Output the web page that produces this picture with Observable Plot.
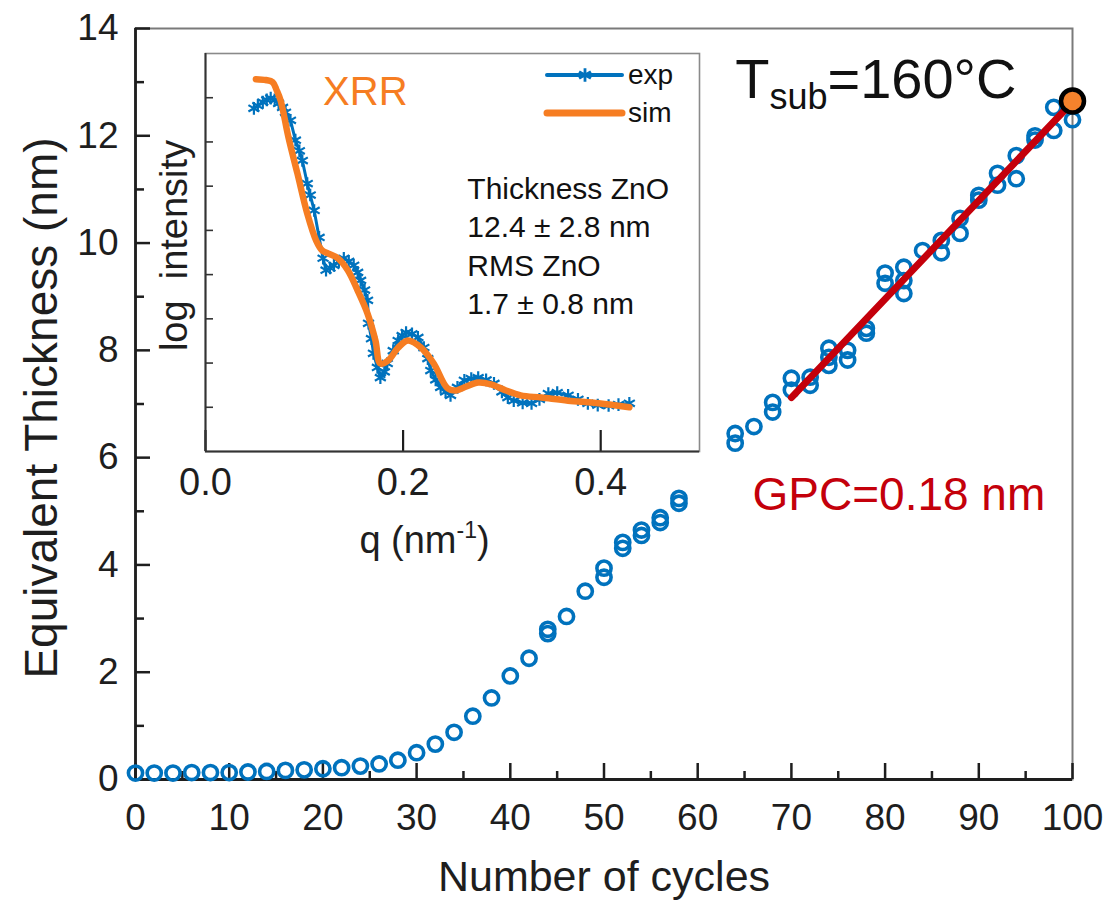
<!DOCTYPE html>
<html>
<head>
<meta charset="utf-8">
<script src="https://cdn.jsdelivr.net/npm/d3@7"></script>
<script src="https://cdn.jsdelivr.net/npm/@observablehq/plot@0.6"></script>
<style>
  html, body { margin: 0; padding: 0; background: white; }
  #wrap { position: relative; width: 1109px; height: 903px; overflow: hidden; }
  #inset { position: absolute; left: 150px; top: 40px; }
</style>
</head>
<body>
<div id="wrap"><div id="main"></div><div id="inset"></div></div>
<script>
// ---------------- data ----------------
const cycles = [0,2,4,6,8,10,12,14,16,18,20,22,24,26,28,30,32,34,36,38,40,42,44,44,46,48,50,50,52,52,54,54,56,56,58,58,64,64,66,68,68,70,70,72,72,74,74,74,76,76,78,78,80,80,82,82,82,84,86,86,88,88,90,90,92,92,94,94,96,96,98,98,100];
const thickness = [0.12,0.12,0.12,0.13,0.13,0.13,0.14,0.15,0.17,0.18,0.2,0.22,0.25,0.29,0.36,0.5,0.66,0.88,1.18,1.52,1.93,2.26,2.72,2.8,3.04,3.51,3.94,3.77,4.31,4.42,4.55,4.65,4.88,4.79,5.24,5.15,6.27,6.45,6.58,6.85,7.03,7.26,7.48,7.35,7.5,7.72,7.87,8.04,7.82,8.0,8.32,8.41,9.25,9.44,9.06,9.3,9.55,9.86,9.82,10.05,10.18,10.46,10.8,10.89,11.08,11.3,11.2,11.63,11.92,12.0,12.1,12.53,12.3];
const fitCycles = [70, 100];
const fitThickness = [7.12, 12.63];
const xrrCycle = [100];
const xrrThickness = [12.65];

const xMajor = [0,10,20,30,40,50,60,70,80,90,100];
const xMinor = [5,15,25,35,45,55,65,75,85,95];
const yMajor = [0,2,4,6,8,10,12,14];
const yMinor = [1,3,5,7,9,11,13];

// inset (XRR)
const expQ = [0.049,0.053,0.058,0.062,0.066,0.070,0.074,0.078,0.081,0.086,0.091,0.095,0.098,0.103,0.106,0.110,0.115,0.119,0.122,0.126,0.130,0.135,0.140,0.145,0.150,0.154,0.157,0.161,0.164,0.165,0.168,0.170,0.174,0.177,0.181,0.184,0.190,0.195,0.199,0.203,0.209,0.215,0.221,0.225,0.228,0.233,0.238,0.243,0.248,0.255,0.262,0.269,0.276,0.284,0.292,0.300,0.306,0.312,0.321,0.330,0.338,0.347,0.356,0.367,0.377,0.387,0.397,0.408,0.418,0.429];
const expI = [7.76,7.82,7.90,7.95,7.99,7.95,7.87,7.78,7.67,7.49,7.04,6.80,6.58,6.06,5.80,5.45,4.84,4.37,4.10,4.15,4.21,4.30,4.37,4.30,4.21,4.05,3.87,3.65,3.42,2.90,2.55,2.22,1.90,1.67,1.80,1.99,2.28,2.51,2.62,2.69,2.66,2.58,2.35,2.10,1.83,1.62,1.45,1.35,1.27,1.45,1.61,1.65,1.67,1.62,1.54,1.35,1.22,1.15,1.10,1.09,1.18,1.31,1.33,1.27,1.18,1.09,1.05,1.04,1.06,1.09];
const simQ = [0.051,0.061,0.068,0.072,0.076,0.084,0.093,0.103,0.112,0.118,0.124,0.134,0.144,0.154,0.164,0.172,0.177,0.185,0.195,0.205,0.218,0.231,0.245,0.254,0.264,0.276,0.289,0.304,0.319,0.340,0.367,0.398,0.429];
const simI = [8.42,8.40,8.35,8.17,7.94,7.10,6.29,5.38,4.77,4.55,4.48,4.37,4.10,3.64,3.12,2.51,1.99,2.06,2.35,2.51,2.35,1.99,1.43,1.38,1.47,1.56,1.52,1.38,1.27,1.22,1.15,1.09,1.00];
const qTicks = [0, 0.2, 0.4];
const iTicks = [1,2,3,4,5,6,7,8];
const insetNotes = ["Thickness ZnO", "12.4 \u00b1 2.8 nm", "RMS ZnO", "1.7 \u00b1 0.8 nm"];
const legendLabels = ["exp", "sim"];

// ---------------- styles ----------------
const FONT = "'Liberation Sans', Arial, Helvetica, sans-serif";
const BLUE = "#0072bd";
const ORANGE = "#f67d22";
const RED = "#c4000b";
const AXIS = "#1e1e1e";

const rows = cycles.map((c, i) => ({c, t: thickness[i]}));
const fitRows = fitCycles.map((c, i) => ({c, t: fitThickness[i]}));
const endRows = xrrCycle.map((c, i) => ({c, t: xrrThickness[i]}));
const expRows = expQ.map((q, i) => ({q, v: expI[i]}));
const simRows = simQ.map((q, i) => ({q, v: simI[i]}));

// ---------------- main chart ----------------
const W = 1109, H = 903;
const mL = 135, mR = 37, mT = 28, mB = 124;
const fh = H - mT - mB, fw = W - mL - mR;

const main = Plot.plot({
  width: W, height: H,
  marginLeft: mL, marginRight: mR, marginTop: mT, marginBottom: mB,
  style: {fontFamily: FONT, background: "white", color: AXIS, overflow: "visible"},
  x: {domain: [0, 100]},
  y: {domain: [0, 14]},
  marks: [
    Plot.frame({stroke: "#7a7a7a", strokeWidth: 2}),
    Plot.tickX(xMajor, {x: d => d, insetTop: fh - 16, stroke: AXIS, strokeWidth: 2.5}),
    Plot.tickX(xMinor, {x: d => d, insetTop: fh - 8, stroke: AXIS, strokeWidth: 2.5}),
    Plot.tickY(yMajor, {y: d => d, insetRight: fw - 15, stroke: AXIS, strokeWidth: 2.5}),
    Plot.tickY(yMinor, {y: d => d, insetRight: fw - 9, stroke: AXIS, strokeWidth: 2.5}),
    Plot.ruleX([0], {stroke: AXIS, strokeWidth: 2.8}),
    Plot.ruleY([0], {stroke: AXIS, strokeWidth: 2.8}),
    Plot.axisX(xMajor, {tickSize: 0, tickPadding: 24, fontSize: 37, label: null, fill: AXIS, tickFormat: d => String(d)}),
    Plot.axisY(yMajor, {tickSize: 0, tickPadding: 17, fontSize: 37, label: null, fill: AXIS, tickFormat: d => String(d)}),
    Plot.text(["Equivalent Thickness (nm)"], {frameAnchor: "left", textAnchor: "middle", rotate: -90, dx: -93, dy: 4, fontSize: 46, fill: AXIS}),
    Plot.text(["Number of cycles"], {frameAnchor: "bottom", dy: 111, fontSize: 43, fill: AXIS}),
    Plot.dot(rows, {x: "c", y: "t", r: 7.1, stroke: BLUE, strokeWidth: 3.6, fill: "none"}),
    Plot.line(fitRows, {x: "c", y: "t", stroke: RED, strokeWidth: 7}),
    Plot.dot(endRows, {x: "c", y: "t", r: 11.5, fill: "#f5822c", stroke: "#000", strokeWidth: 4.5}),
    Plot.text(["Tsub=160\u00b0C"], {x: 64.0, y: 13.04, textAnchor: "start", fontSize: 56, fill: "#111"}),
    Plot.text(["GPC=0.18 nm"], {x: 65.85, y: 5.30, textAnchor: "start", fontSize: 46, fill: RED})
  ]
});
document.getElementById("main").appendChild(main);

// ---------------- inset chart ----------------
const iW = 560, iH = 520;
const iL = 55, iR = 11, iT = 13, iB = 109;
const ifh = iH - iT - iB, ifw = iW - iL - iR;

const inset = Plot.plot({
  width: iW, height: iH,
  marginLeft: iL, marginRight: iR, marginTop: iT, marginBottom: iB,
  style: {fontFamily: FONT, background: "transparent", color: AXIS, overflow: "visible"},
  x: {domain: [0, 0.5], axis: null},
  y: {domain: [0, 9], axis: null},
  marks: [
    Plot.rect([0], {x1: 0, x2: 0.5, y1: 0, y2: 9, fill: "white"}),
    Plot.frame({stroke: "#8a8a8a", strokeWidth: 1.6}),
    Plot.tickX(qTicks, {x: d => d, insetTop: ifh - 21, stroke: AXIS, strokeWidth: 2.2}),
    Plot.tickY(iTicks, {y: d => d, insetRight: ifw - 8, stroke: "#333", strokeWidth: 1.6}),
    Plot.ruleX([0], {stroke: "#333", strokeWidth: 2}),
    Plot.ruleY([0], {stroke: "#333", strokeWidth: 2}),
    Plot.axisX(qTicks, {tickSize: 0, tickPadding: 17, fontSize: 38, label: null, fill: AXIS, tickFormat: d => d.toFixed(1)}),
    Plot.text(["log  intensity"], {frameAnchor: "left", textAnchor: "middle", rotate: -90, dx: -31, dy: -7, fontSize: 38, fill: AXIS}),
    Plot.text(["q (nm-1)"], {frameAnchor: "bottom", dx: -28, dy: 101, fontSize: 38, fill: AXIS}),
    Plot.line(expRows, {x: "q", y: "v", stroke: BLUE, strokeWidth: 3}),
    Plot.dot(expRows, {x: "q", y: "v", symbol: "asterisk", r: 6, stroke: BLUE, strokeWidth: 2.2}),
    Plot.line(simRows, {x: "q", y: "v", curve: "catmull-rom", stroke: ORANGE, strokeWidth: 6.5}),
    Plot.text(["XRR"], {x: 0.119, y: 8.12, textAnchor: "start", fontSize: 40, fill: ORANGE}),
    Plot.text([insetNotes.join("\n")], {x: 0.265, y: 6.33, textAnchor: "start", lineAnchor: "top", lineHeight: 1.283, fontSize: 30, fill: "#111"})
  ]
});
document.getElementById("inset").appendChild(inset);

// ---------------- rich text (subscript / superscript) ----------------
function rich(svg, content, parts) {
  d3.select(svg).selectAll("text").each(function() {
    if (this.textContent === content) {
      const t = d3.select(this);
      t.text(null);
      for (const p of parts) {
        const s = t.append("tspan").text(p.text);
        if (p.size) s.attr("font-size", p.size);
        if (p.dy) s.attr("dy", p.dy);
      }
    }
  });
}
rich(main, "Tsub=160\u00b0C", [{text: "T"}, {text: "sub", size: 36, dy: 11}, {text: "=160\u00b0C", dy: -11}]);
rich(inset, "q (nm-1)", [{text: "q (nm"}, {text: "-1", size: 23, dy: -15}, {text: ")", dy: 15}]);

// ---------------- inset legend ----------------
const lg = d3.select(inset).append("g").attr("font-family", FONT).attr("font-size", 28).attr("fill", "#111").attr("text-anchor", "start");
legendLabels.forEach((lab, i) => {
  const yy = 35 + i * 38;
  const g = lg.append("g").attr("transform", `translate(397,${yy})`);
  if (lab === "exp") {
    g.append("line").attr("x1", 0).attr("x2", 75).attr("stroke", BLUE).attr("stroke-width", 4).attr("stroke-linecap", "round");
    const star = d3.symbol(d3.symbolAsterisk, 130)();
    g.append("path").attr("d", star).attr("transform", "translate(38,0)").attr("stroke", BLUE).attr("stroke-width", 2.8).attr("fill", "none");
  } else {
    g.append("line").attr("x1", 0).attr("x2", 75).attr("stroke", ORANGE).attr("stroke-width", 7).attr("stroke-linecap", "round");
  }
  g.append("text").attr("x", 81).attr("dy", "0.32em").attr("text-anchor", "start").text(lab);
});
</script>
</body>
</html>
